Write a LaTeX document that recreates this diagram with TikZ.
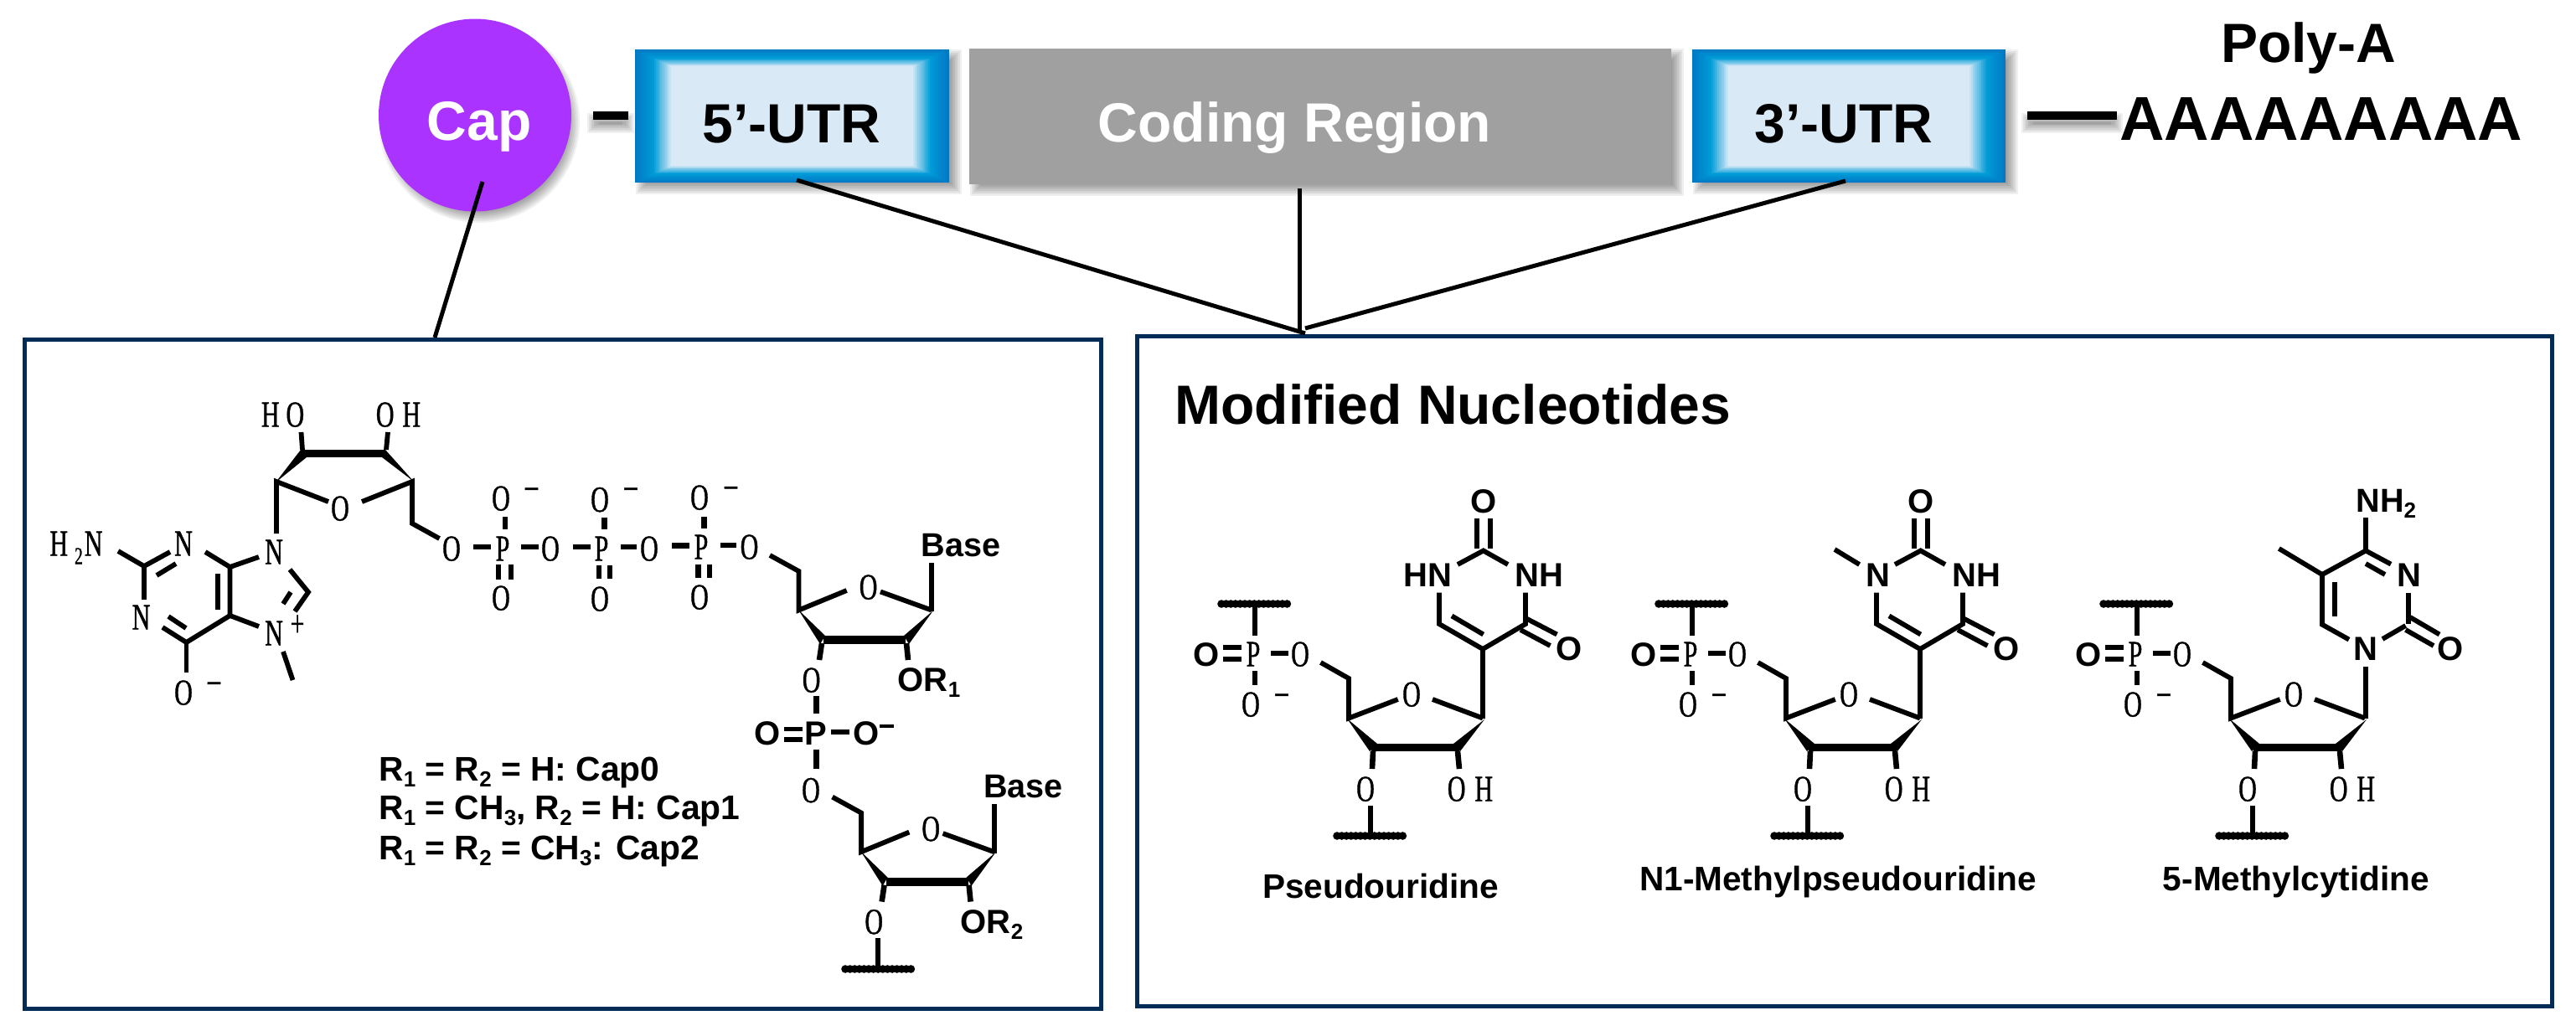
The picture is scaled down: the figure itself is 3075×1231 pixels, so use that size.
\documentclass[tikz,border=0pt]{standalone}
\usepackage{fontspec}
\setmainfont{Liberation Sans}
\newfontfamily\chemfont[FakeStretch=0.68,FakeBold=0.9]{Liberation Serif}
\definecolor{capP}{HTML}{AA33FF}
\definecolor{grayB}{HTML}{A0A0A0}
\definecolor{navy}{HTML}{022B56}
\definecolor{bevA}{HTML}{0078C4}
\definecolor{bevB}{HTML}{009CD8}
\definecolor{bevC}{HTML}{DAE9F6}
\newcounter{at}
\tikzset{
  panel/.style={draw=navy,line width=2.5pt,fill=none},
  link/.style={draw=black,line width=2.5pt},
  bond/.style={draw=black,line width=2.9pt},
  sbond/.style={draw=black,line width=3.3pt},
  serlbl/.style={font=\chemfont\fontsize{22}{22}\selectfont,inner sep=0pt,anchor=base,yshift=-7.25pt},
  sanlbl/.style={font=\bfseries\fontsize{20}{20}\selectfont,inner sep=0pt,anchor=base,yshift=-7pt},
  baselbl/.style={font=\bfseries\fontsize{19.8}{20}\selectfont,inner sep=0pt,anchor=base},
  big/.style={font=\bfseries\fontsize{33}{36}\selectfont,inner sep=0pt,anchor=base},
  biga/.style={font=\bfseries\fontsize{37}{40}\selectfont,inner sep=0pt,anchor=base},
  namelbl/.style={font=\bfseries\fontsize{20.3}{22}\selectfont,inner sep=0pt,anchor=base},
  keylbl/.style={font=\bfseries\fontsize{20.4}{22}\selectfont,inner sep=0pt,anchor=base west},
  hole/.style={inner sep=0pt,draw=none,fill=none},
}
\newcommand\Ser[3]{\stepcounter{at}\node[serlbl] (s\theat) at (#1,#2) {#3};}
\newcommand\San[3]{\stepcounter{at}\node[sanlbl] (s\theat) at (#1,#2) {#3};}
\newcommand\Mns[2]{\stepcounter{at}\node[serlbl,yshift=1.75pt] (s\theat) at (#1,#2) {–};}
\newcommand\ssub[1]{\raisebox{-3.5pt}{\fontsize{13}{13}\selectfont #1}}
\newcommand\softshadow[6]{%
  \foreach \d in {7,5,3,1,-1,-3,-5,-7}{%
    \fill[black,opacity=.06] ({#1+#5-\d},{#2+#6-\d}) rectangle ({#3+#5+\d},{#4+#6+\d});}}
\newcommand\bevelbox[4]{%
  \foreach \i in {0,...,24}{%
    \pgfmathsetmacro\t{\i/24}%
    \pgfmathsetmacro\pa{max(0,100-\t*200)}%
    \pgfmathsetmacro\pc{max(0,(\t-.5)*200)}%
    \colorlet{bevcur}{bevC!\pc!bevB}%
    \colorlet{bevcur}{bevA!\pa!bevcur}%
    \fill[bevcur] ({#1+\t*43},{#2+\t*20}) rectangle ({#3-\t*43},{#4-\t*20});}}
\newcommand\squig[3]{%
  \draw[black,line width=3.4pt] (#1,#3) -- (#2,#3);
  \draw[black,line width=4.8pt,line cap=round,dash pattern=on 0pt off 2.8pt] (#1,#3) -- (#2,#3);}
% ribose + phosphate used three times in the right panel
\newcommand\nucleoside{%
  \squig{1458}{1538}{721}
  \draw[sbond] (1498,722) -- (1498,759);
  \San{1440}{781}{O}
  \draw[sbond] (1460,773) -- (1482,773) (1460,787) -- (1482,787);
  \Ser{1496}{781}{P}
  \draw[sbond] (1517,780) -- (1538,780);
  \Ser{1552}{781}{O}
  \draw[sbond] (1498,801) -- (1498,817.5);
  \Ser{1493}{841}{O}
  \Mns{1530}{829}
  \draw[bond,line join=miter] (1576.5,791) -- (1610,810) -- (1610,857.5) -- (1668.7,835);
  \Ser{1685}{829}{O}
  \draw[bond] (1710,835) -- (1770,857.5);
  \fill (1608,858) -- (1644,888) -- (1635,897) -- cycle;
  \fill (1637,888) rectangle (1742,897);
  \fill (1772,859) -- (1735,888) -- (1743,897) -- cycle;
  \draw[sbond] (1639,897) -- (1638,918) (1740,897) -- (1742,918);
  \Ser{1630}{942}{O}
  \Ser{1755}{942}{O\hspace{5.5pt}H}
  \draw[sbond] (1636,962) -- (1636,995);
  \squig{1596}{1677}{998}
}
\newcommand\uracilcore{%
  \draw[bond,line join=miter] (1770,858) -- (1770,775) -- (1718,745) -- (1718,707.5);
  \draw[bond,line join=miter] (1770,775) -- (1821,745) -- (1821,707.5);
  \draw[bond] (1733,735.4) -- (1770.7,757.5);
  \draw[bond,line join=miter] (1740,674) -- (1770.7,657.5) -- (1800,674);
  \draw[bond] (1763,619) -- (1763,655) (1778.6,619) -- (1778.6,655);
  \San{1771}{598}{O}
  \draw[bond] (1821,738) -- (1858.5,757.5) (1815,752) -- (1850.5,771);
  \San{1872.7}{774}{O}
  \San{1837}{686}{NH}
}
% ribose in the left panel
\newcommand\riboseL{%
  \draw[bond,line join=miter] (919,663) -- (953.5,682) -- (953.5,728.5) -- (1010.7,705);
  \Ser{1036.6}{701}{O}
  \draw[bond] (1051,706.5) -- (1112,728.5);
  \draw[bond] (1112,730) -- (1112,671.5);
  \stepcounter{at}\node[baselbl,anchor=base] (s\theat) at (1147,664) {Base};
  \fill (953,728) -- (985,759) -- (979,769) -- cycle;
  \fill (983,759) rectangle (1081,769);
  \fill (1114,729) -- (1079,759) -- (1085,769) -- cycle;
  \draw[sbond] (981,768) -- (978,788) (1082,768) -- (1084,788);
  \Ser{968.6}{812}{O}
}
\begin{document}
\begin{tikzpicture}[x=0.5pt,y=-0.5pt]
\useasboundingbox (0,0) rectangle (3075,1231);
\fill[white] (0,0) rectangle (3075,1231);

% ---------- top row ----------
\foreach \d in {7,5,3,1,-1,-3,-5,-7}{\fill[black,opacity=.055] (572,146) circle ({113+\d});}
\node[circle,fill=capP,minimum size=115pt,inner sep=0pt] (cap) at (567,137.5) {};
\node[big,white] (capt) at (572,167) {Cap};

\softshadow{708}{133}{750}{143}{0}{9}
\fill[black] (708,133) rectangle (750,143);
\node[hole,minimum width=21pt,minimum height=5pt] (dashL) at (729,138) {};

\softshadow{758}{59}{1133}{218}{8}{7}
\bevelbox{758}{59}{1133}{218}
\node[hole,minimum width=187.5pt,minimum height=79.5pt] (utr5) at (945.5,138.5) {};
\node[big] (utr5t) at (945,170) {5’-UTR};

\softshadow{1157}{58}{1995}{220}{8}{7}
\fill[grayB] (1157,58) rectangle (1995,220);
\node[hole,minimum width=419pt,minimum height=81pt] (cds) at (1576,139) {};
\node[big,white] (cdst) at (1545.5,169.5) {Coding Region};

\softshadow{2020}{59}{2394}{218}{8}{7}
\bevelbox{2020}{59}{2394}{218}
\node[hole,minimum width=187pt,minimum height=79.5pt] (utr3) at (2207,138.5) {};
\node[big] (utr3t) at (2201,170) {3’-UTR};

\softshadow{2420}{133}{2527}{143}{0}{9}
\fill[black] (2420,133) rectangle (2527,143);
\node[hole,minimum width=53.5pt,minimum height=5pt] (dashR) at (2473.5,138) {};

\node[big] (polya) at (2755.5,75) {Poly-A};
\node[biga] (polyseq) at (2771,167) {AAAAAAAAA};

% ---------- panels ----------
\node[panel,rectangle,minimum width=642.5pt,minimum height=399.5pt,inner sep=0pt] (panL) at (672,805) {};
\node[panel,rectangle,minimum width=844.25pt,minimum height=400pt,inner sep=0pt] (panR) at (2201.75,801.5) {};

% ---------- connectors ----------
\coordinate (capF) at (576,217);
\coordinate (panLT) at (519,403);
\coordinate (u5F) at (951,215);
\coordinate (u3F) at (2203,216);
\coordinate (cdF) at (1551,225);
\coordinate (apex) at (1558,398);
\coordinate (apex2) at (1551,397);
\coordinate (apex3) at (1558,392);
\draw[link] (capF) -- (panLT);
\draw[link] (u5F) -- (apex);
\draw[link] (cdF) -- (apex2);
\draw[link] (u3F) -- (apex3);

% ---------- cap structure ----------
\stepcounter{at}\node[serlbl,anchor=base west] (s\theat) at (59,649) {H\hspace{4pt}\raisebox{-5pt}{\fontsize{14.5}{14.5}\selectfont 2}\hspace{1pt}N};
\Ser{219}{649}{N}
\Ser{168.5}{737}{N}
\Ser{327}{659}{N}
\Ser{327}{756}{N}
\stepcounter{at}\node[serlbl] (s\theat) at (355,745) {+};
\Ser{219}{827}{O}
\Mns{255.5}{815}
\Ser{337.5}{495}{H\hspace{4pt}O}
\Ser{475.5}{495}{O\hspace{5pt}H}
\Ser{406}{607}{O}
\Ser{539}{655}{O}
\Ser{600}{655}{P}
\Ser{598}{595}{O}
\Mns{634.5}{583}
\Ser{598}{714}{O}
\Ser{657}{655}{O}
\draw[bond,line join=miter] (141,658) -- (172,676) -- (203,659);
\draw[bond] (187,687) -- (210,673);
\draw[bond] (172,676) -- (172,716);
\draw[bond] (245,659) -- (274.5,677) -- (274.5,735);
\draw[bond] (260,685) -- (260,728);
\draw[bond] (274.5,677) -- (309,665);
\draw[bond] (274.5,735) -- (309,748);
\draw[bond,line join=miter] (194,749) -- (222.5,767) -- (274.5,735);
\draw[bond] (201,736) -- (222,750);
\draw[bond] (222.5,767) -- (222.5,803);
\draw[bond] (338,778) -- (349.5,812);
\draw[bond,line join=miter] (346,680) -- (368,707) -- (352,730);
\draw[bond] (347,707) -- (338,721);
\draw[bond,line join=miter] (330,637) -- (330,575) -- (392,599);
\draw[bond,line join=miter] (432,599) -- (492,575) -- (492,625) -- (524.5,643);
\fill (329,576) -- (359,537) -- (366,546) -- cycle;
\fill (359,537) rectangle (460,546);
\fill (494,575) -- (460,537) -- (456,546) -- cycle;
\draw[bond] (359.5,516) -- (361,537) (463,516) -- (461,537);
\draw[sbond] (565,653) -- (586,653) (622,653) -- (643,653);
\draw[sbond] (603,617) -- (603,632);
\draw[sbond] (595,674) -- (595,692) (610,674) -- (610,692);
% second phosphate
\draw[sbond] (683.5,653) -- (704.5,653) (740.6,653) -- (760,653);
\draw[sbond] (721.5,617.5) -- (721.5,631.5);
\draw[sbond] (715,675) -- (715,691) (728,675) -- (728,691);
\Ser{718}{655}{P}
\Ser{716}{596.5}{O}
\Mns{753}{583}
\Ser{716}{715}{O}
\Ser{775}{655}{O}
% third phosphate
\draw[sbond] (802,651.5) -- (823,651.5) (860,651) -- (879,651);
\draw[sbond] (840.6,616.5) -- (840.6,630.5);
\draw[sbond] (833.5,673.5) -- (833.5,690) (847,673.5) -- (847,690);
\Ser{837}{653}{P}
\Ser{835}{594}{O}
\Mns{872.5}{581.5}
\Ser{835}{713}{O}
\Ser{894.5}{653}{O}
% riboses
\riboseL
\begin{scope}[shift={(74.6,288.6)}]
\riboseL
\end{scope}
\San{1109}{811}{OR\ssub{1}}
\San{1184}{1100}{OR\ssub{2}}
\draw[sbond] (974.5,831) -- (974.5,852) (974.5,895) -- (974.5,918);
\San{916}{875}{O}
\draw[sbond,line width=2.8pt] (936,870.5) -- (958,870.5) (936,883) -- (958,883);
\San{974}{875}{P}
\draw[sbond,line width=2.8pt] (991.5,874) -- (1014,874);
\San{1034}{875}{O}
\draw[bond,line width=1.6pt] (1050,867) -- (1067,867);
\Ser{968}{943.5}{O}
\draw[sbond] (1048,1120) -- (1048,1155);
\squig{1009}{1089}{1157}

% key
\node[keylbl] (k1) at (452,932) {R\ssub{1} = R\ssub{2} = H: Cap0};
\node[keylbl] (k2) at (452,978) {R\ssub{1} = CH\ssub{3}, R\ssub{2} = H: Cap1};
\node[keylbl] (k3) at (452,1026) {R\ssub{1} = R\ssub{2} = CH\ssub{3}: Cap2};

% ---------- right panel ----------
\node[big,anchor=base west] (title) at (1402,506) {Modified Nucleotides};

% pseudouridine
\nucleoside
\uracilcore
\San{1704.6}{686}{HN}
\node[namelbl] (n1) at (1648,1072) {Pseudouridine};

% N1-methylpseudouridine
\begin{scope}[shift={(522,0)}]
\nucleoside
\uracilcore
\San{1720}{686}{N}
\draw[bond] (1668,656) -- (1697.6,674);
\end{scope}
\node[namelbl] (n2) at (2194,1063.5) {N1-Methylpseudouridine};

% 5-methylcytidine
\begin{scope}[shift={(1053,0)}]
\nucleoside
\end{scope}
\San{2824}{774.6}{N}
\draw[bond] (2824,858) -- (2824,796);
\draw[bond,line join=miter] (2804,763.6) -- (2772,745.7) -- (2772,686) -- (2824,657.5) -- (2854,673.6);
\draw[bond] (2786.6,695) -- (2786.6,736);
\draw[bond] (2720.4,655) -- (2772,686);
\draw[bond] (2824,657.5) -- (2824,618);
\stepcounter{at}\node[baselbl,anchor=base west] (s\theat) at (2812,611) {NH\ssub{2}};
\draw[bond] (2824,673) -- (2847,686);
\San{2876}{686}{N}
\draw[bond] (2874.6,707.5) -- (2874.6,745);
\draw[bond] (2871.6,747) -- (2844,763);
\draw[bond] (2877,737) -- (2912,757.5) (2871.6,752) -- (2905,771);
\San{2925.5}{774}{O}
\node[namelbl] (n3) at (2741,1063.5) {5-Methylcytidine};
\end{tikzpicture}
\end{document}
